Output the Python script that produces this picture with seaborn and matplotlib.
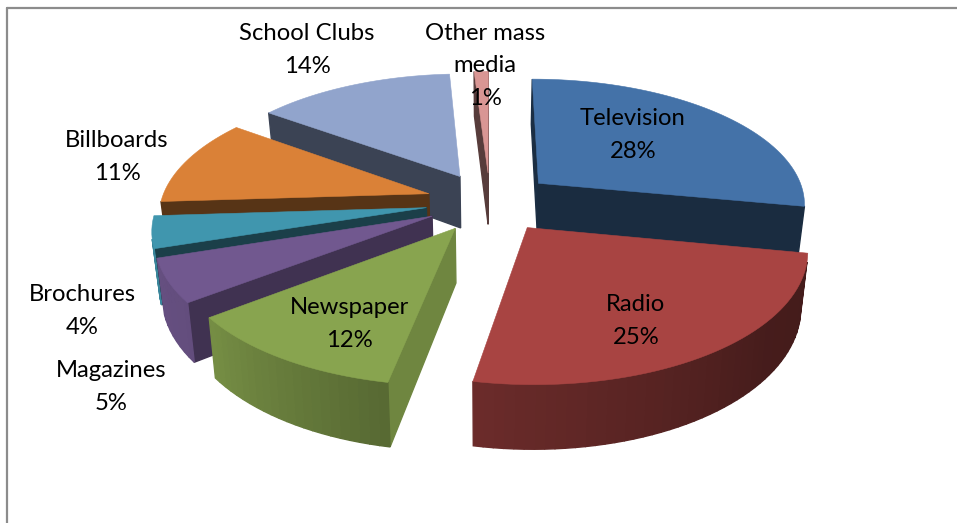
import numpy as np
import matplotlib
matplotlib.use("Agg")
import matplotlib.pyplot as plt
import seaborn as sns

# chart data, labels show the rounded share
media = ["Television", "Radio", "Newspaper", "Magazines", "Brochures",
         "Billboards", "School Clubs", "Other mass\nmedia"]
shares = [28, 25, 11.6, 5.4, 4, 11, 14, 1]
slice_colors = ["#4472A8", "#A84442", "#88A44F", "#71588F",
                "#4096AE", "#DA8137", "#91A4CC", "#D99694"]

# label centres in pixels
label_x = [633, 636, 349, 111, 82, 117, 307, 485]
label_y = [135, 321, 324, 387, 311, 157, 50, 66]

sns.set_theme(style="white")
plt.rcParams["font.family"] = ["Lato", "DejaVu Sans"]

# projection of the tilted pie to pixels
cx, cy = 490, 202
rx, ry = 268, 125
persp = 0.15
explode = 0.24
height = 53
converge = 0.978  # lower rim sits a little closer to the middle


def project(x, y):
    f = 1 / (1 - persp * y)
    return cx + rx * x * f, cy + ry * y * f, f


def corner(x, y, low=False):
    sx, sy, f = project(x, y)
    if low:
        return cx + (sx - cx) * converge, sy + height * f
    return sx, sy


def shade(color, k):
    return tuple(np.clip(np.array(matplotlib.colors.to_rgb(color)) * k, 0, 1))


def draw_quad(ax, a, b, color):
    # a and b are the top points of a wall, skipped when it faces away
    pts = [corner(*a), corner(*b), corner(*b, low=True), corner(*a, low=True)]
    xs, ys = zip(*pts)
    area = sum(xs[i] * ys[(i + 1) % 4] - xs[(i + 1) % 4] * ys[i] for i in range(4))
    if area > 0:
        ax.fill(xs, ys, color=color, lw=1.0, zorder=ax.zcount)
        ax.zcount += 1


fig = plt.figure(figsize=(9.57, 5.23), dpi=100)
ax = fig.add_axes([0, 0, 1, 1])
ax.set_xlim(0, 957)
ax.set_ylim(523, 0)
ax.axis("off")
ax.zcount = 2

# chart frame, only left and top show
ax.plot([7, 7], [523, 8], color="#8C8C8C", lw=1.6, zorder=1)
ax.plot([7, 957], [8, 8], color="#8C8C8C", lw=1.6, zorder=1)

fractions = np.array(shares) / sum(shares)
ends = np.cumsum(fractions) * 360
starts = ends - fractions * 360
mids = np.radians((starts + ends) / 2)

wall_angles = [100, 130, 190, 234, 252, 266]
wall_light = [0.40, 0.42, 0.64, 0.88, 0.90, 0.80]
cut_angles = [0, 100, 190, 234, 252, 266, 306, 356]
cut_light = [0.40, 0.38, 0.82, 0.56, 0.42, 0.40, 0.41, 0.40]

# back slices first
for i in np.argsort(-np.cos(mids)):
    tip = (explode * np.sin(mids[i]), -explode * np.cos(mids[i]))
    ang = np.radians(np.linspace(starts[i], ends[i], max(4, int(shares[i] * 2))))
    rim = [(tip[0] + np.sin(a), tip[1] - np.cos(a)) for a in ang]

    for edge, deg in ((rim[0], starts[i]), (rim[-1], ends[i])):
        k = np.interp(deg, cut_angles, cut_light)
        # wind both cut faces the way that keeps the outer side visible
        if deg == starts[i]:
            draw_quad(ax, edge, tip, shade(slice_colors[i], k))
        else:
            draw_quad(ax, tip, edge, shade(slice_colors[i], k))

    for j in range(len(rim) - 1):
        k = np.interp(np.degrees(ang[j]), wall_angles, wall_light)
        draw_quad(ax, rim[j + 1], rim[j], shade(slice_colors[i], k))

    top = [corner(*tip)] + [corner(*p) for p in rim]
    xs, ys = zip(*top)
    ax.fill(xs, ys, color=slice_colors[i], lw=0.4, zorder=ax.zcount)
    ax.zcount += 1

for name, pct, x, y in zip(media, shares, label_x, label_y):
    ax.text(x, y, f"{name}\n{round(pct)}%", ha="center", va="center", fontsize=17.2,
            color="black", linespacing=1.7, zorder=10000)

fig.savefig("out.png", dpi=100)
